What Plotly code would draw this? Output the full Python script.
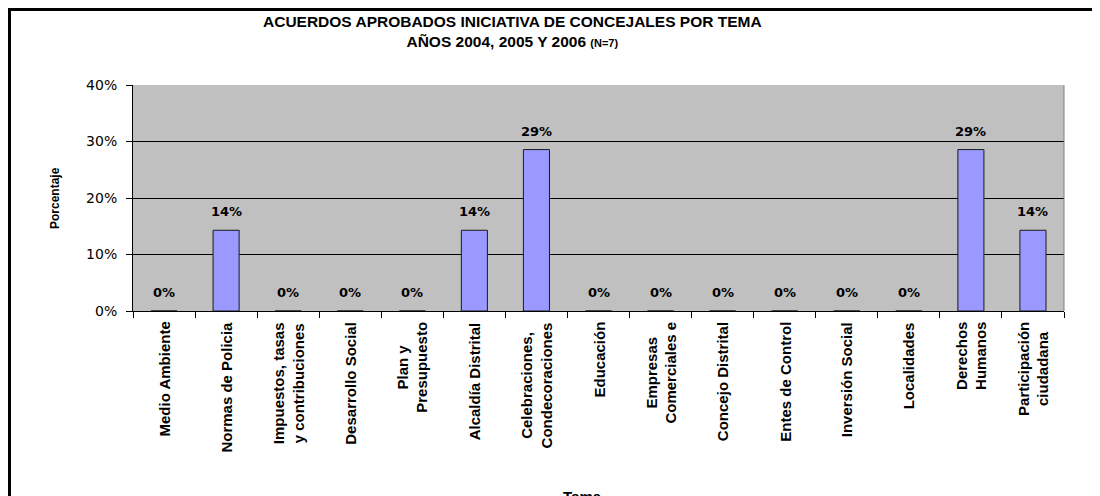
import plotly.graph_objects as go

categories = [
    "Medio Ambiente",
    "Normas de Policia",
    "Impuestos, tasas<br>y contribuciones",
    "Desarrollo Social",
    "Plan y<br>Presupuesto",
    "Alcaldía Distrital",
    "Celebraciones,<br>Condecoraciones",
    "Educación",
    "Empresas<br>Comerciales e",
    "Concejo Distrital",
    "Entes de Control",
    "Inversión Social",
    "Localidades",
    "Derechos<br>Humanos",
    "Participación<br>ciudadana",
]
values = [0.0, 0.1429, 0.0, 0.0, 0.0, 0.1429, 0.2857, 0.0, 0.0, 0.0, 0.0, 0.0, 0.0, 0.2857, 0.1429]
y_ticks = [0.0, 0.1, 0.2, 0.3, 0.4]
title_line1 = "ACUERDOS APROBADOS INICIATIVA DE CONCEJALES POR TEMA"
title_line2 = "AÑOS 2004, 2005 Y 2006"
title_n = "(N=7)"
y_title = "Porcentaje"
x_title = "Tema"

OFF = 8  # page body margin
W, H = 1092, 488
L, T = 133 - OFF, 85 - OFF
pw, ph = 931, 226
R = W - L - pw
B = H - T - ph

def px_x(p):
    return (p - OFF - L) / pw

def px_y(p):
    return (H - B - (p - OFF)) / ph

fig = go.Figure()
fig.add_trace(go.Bar(
    x=categories, y=values,
    marker=dict(color="#9999FF", line=dict(color="#1a1a1a", width=1)),
    width=0.42,
    hoverinfo="x+y",
))

annotations = []
for c, v in zip(categories, values):
    annotations.append(dict(
        x=c, y=v, xref="x", yref="y", text=f"{v:.0%}", showarrow=False,
        yanchor="bottom", yshift=9,
        font=dict(family="DejaVu Sans, Arial", size=13, color="black", weight="bold"),
    ))
    annotations.append(dict(
        x=c, y=0, xref="x", yref="paper", text=c, showarrow=False,
        textangle=-90, align="center", xanchor="center", yanchor="top", yshift=-9,
        font=dict(family="Liberation Sans, Arial", size=15, color="black", weight="bold"),
    ))

annotations.append(dict(
    x=px_x(512), y=px_y(11), xref="paper", yref="paper", showarrow=False,
    xanchor="center", yanchor="top", align="center",
    text=f"<b>{title_line1}<br>{title_line2} <span style='font-size:11px'>{title_n}</span></b>",
    font=dict(family="Liberation Sans, Arial", size=15.5, color="black"),
))
annotations.append(dict(
    x=px_x(55), y=px_y(198), xref="paper", yref="paper", showarrow=False,
    xanchor="center", yanchor="middle", textangle=-90,
    text=f"<b>{y_title}</b>",
    font=dict(family="Liberation Sans, Arial", size=12, color="black"),
))
annotations.append(dict(
    x=px_x(582), y=px_y(486), xref="paper", yref="paper", showarrow=False,
    xanchor="center", yanchor="top",
    text=f"<b>{x_title}</b>",
    font=dict(family="Liberation Sans, Arial", size=15, color="black"),
))

shapes = [
    # outer chart frame
    dict(type="line", xref="paper", yref="paper", x0=px_x(9.5), x1=px_x(9.5), y0=px_y(OFF), y1=px_y(H + 40),
         line=dict(color="black", width=3)),
    dict(type="line", xref="paper", yref="paper", x0=px_x(OFF), x1=px_x(W + 40), y0=px_y(9.5), y1=px_y(9.5),
         line=dict(color="black", width=3)),
    # plot right border
    dict(type="line", xref="paper", yref="paper", x0=1, x1=1, y0=0, y1=1,
         line=dict(color="#808080", width=1)),
]

fig.update_layout(
    width=W, height=H,
    margin=dict(l=L, r=R, t=T, b=B),
    paper_bgcolor="white", plot_bgcolor="#C0C0C0",
    showlegend=False,
    bargap=0.58,
    annotations=annotations,
    shapes=shapes,
    xaxis=dict(
        type="category", showticklabels=False, ticks="outside", tickson="boundaries",
        ticklen=6, tickcolor="black", showline=True, linecolor="black", linewidth=1,
        showgrid=False, zeroline=False,
    ),
    yaxis=dict(
        range=[0, 0.4], tickvals=y_ticks, tickformat=".0%", ticks="outside", ticklen=6,
        tickcolor="black", showline=True, linecolor="black", linewidth=1,
        showgrid=True, gridcolor="black", gridwidth=1, zeroline=False,
        ticklabelstandoff=6,
        tickfont=dict(family="DejaVu Sans, Arial", size=14, color="black"),
    ),
)

fig.write_html("out.html")
